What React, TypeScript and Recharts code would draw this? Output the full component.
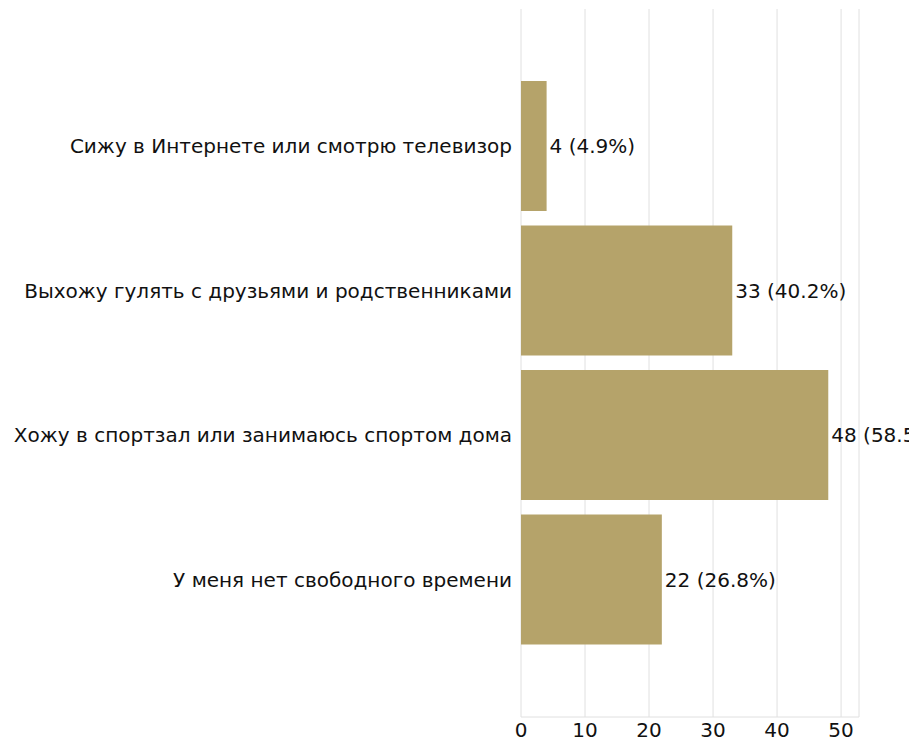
import React from 'react';
import { BarChart, Bar, XAxis, YAxis, CartesianGrid, LabelList } from 'recharts';

// answers and counts
const answers = [
    'Сижу в Интернете или смотрю телевизор',
    'Выхожу гулять с друзьями и родственниками',
    'Хожу в спортзал или занимаюсь спортом дома',
    'У меня нет свободного времени',
];
const counts = [4, 33, 48, 22];
const percents = ['4.9%', '40.2%', '58.5%', '26.8%'];
const xTicks = [0, 10, 20, 30, 40, 50];

const data = answers.map((name, i) => ({ name, value: counts[i], label: `${counts[i]} (${percents[i]})` }));

const FONT = '"DejaVu Sans", sans-serif';

export default function App() {
    return (
        <div style={{ position: 'absolute', left: 0, top: 0, width: 909, height: 742, background: '#fff', fontFamily: FONT }}>
            <BarChart
                width={909}
                height={742}
                data={data}
                layout="vertical"
                margin={{ top: 9, right: 50, left: 0, bottom: 0 }}
            >
                <CartesianGrid horizontal={false} stroke="#e0e0e0" />
                <XAxis
                    type="number"
                    domain={[0, 52.8]}
                    ticks={xTicks}
                    tickLine={false}
                    axisLine={{ stroke: '#e0e0e0' }}
                    height={25}
                    tick={{ fill: '#111', fontSize: 20, fontFamily: FONT, dy: -2 }}
                />
                <YAxis
                    type="category"
                    dataKey="name"
                    width={521}
                    axisLine={false}
                    tickLine={false}
                    padding={{ top: 65, bottom: 65 }}
                    tick={{ fill: '#111', fontSize: 20, fontFamily: FONT, dx: -1 }}
                />
                <Bar dataKey="value" fill="#b5a36a" barSize={130} isAnimationActive={false}>
                    <LabelList dataKey="label" position="right" offset={3} fill="#111" fontSize={20} fontFamily={FONT} />
                </Bar>
            </BarChart>
        </div>
    );
}
